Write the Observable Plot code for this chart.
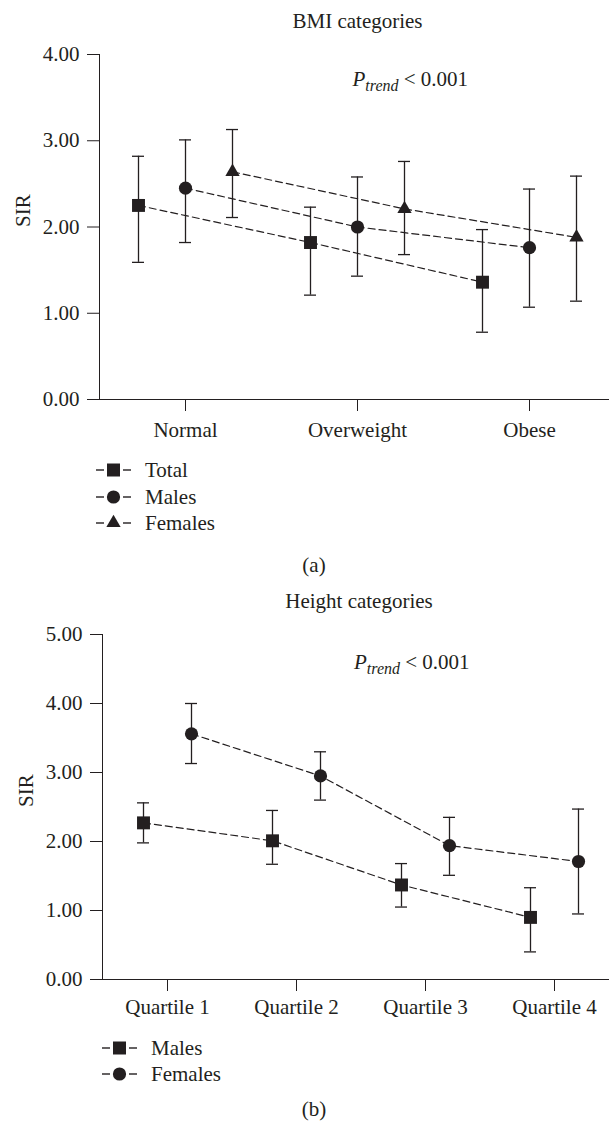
<!DOCTYPE html>
<html><head><meta charset="utf-8">
<script src="https://cdn.jsdelivr.net/npm/d3@7"></script>
<script src="https://cdn.jsdelivr.net/npm/@observablehq/plot@0.6"></script>
<style>
body{margin:0;background:#fff;}
#page{position:relative;width:609px;height:1121px;background:#fff;font-family:"Liberation Serif",serif;color:#231f20;overflow:hidden;}
.row{position:absolute;height:20px;font-size:21px;line-height:20px;white-space:nowrap;}
.cap{position:absolute;font-size:21px;line-height:20px;transform:translate(-50%,-50%);}
</style></head><body><div id="page"></div>
<script>
const ink = "#231f20";

// ---- Panel (a): BMI categories ----
const bmiTitle = "BMI categories";
const bmiCategories = ["Normal", "Overweight", "Obese"];
const bmiSeries = ["Total", "Males", "Females"];
const bmiSIR   = {Total: [2.25, 1.82, 1.36], Males: [2.45, 2.00, 1.76], Females: [2.64, 2.21, 1.88]};
const bmiLower = {Total: [1.59, 1.21, 0.78], Males: [1.82, 1.43, 1.07], Females: [2.11, 1.68, 1.14]};
const bmiUpper = {Total: [2.82, 2.23, 1.97], Males: [3.01, 2.58, 2.44], Females: [3.13, 2.76, 2.59]};
const bmiYTicks = [0, 1, 2, 3, 4];

// ---- Panel (b): Height categories ----
const htTitle = "Height categories";
const htCategories = ["Quartile 1", "Quartile 2", "Quartile 3", "Quartile 4"];
const htSeries = ["Males", "Females"];
const htSIR   = {Males: [2.27, 2.01, 1.37, 0.90], Females: [3.56, 2.95, 1.94, 1.71]};
const htLower = {Males: [1.98, 1.67, 1.05, 0.40], Females: [3.13, 2.60, 1.51, 0.95]};
const htUpper = {Males: [2.56, 2.45, 1.68, 1.33], Females: [4.00, 3.30, 2.35, 2.47]};
const htYTicks = [0, 1, 2, 3, 4, 5];

const pTrendText = "P_trend < 0.001";

function rowsFor(categories, series, sir, lo, hi) {
  return series.map(s => categories.map((c, i) => ({series: s, category: c, sir: sir[s][i], lo: lo[s][i], hi: hi[s][i]})));
}

function chart(o) {
  const marks = [];
  const groups = rowsFor(o.categories, o.series, o.sir, o.lo, o.hi);
  groups.forEach((rows, k) => {
    const dx = o.offsets[k];
    marks.push(Plot.line(rows, {x: "category", y: "sir", dx, stroke: ink, strokeWidth: 1.2, strokeDasharray: "7,4"}));
    marks.push(Plot.ruleX(rows, {x: "category", y1: "lo", y2: "hi", dx, stroke: ink, strokeWidth: 1.3}));
    marks.push(Plot.ruleY(rows, {x1: "category", x2: "category", y: "lo", dx, insetLeft: -6, insetRight: -6, stroke: ink, strokeWidth: 1.3}));
    marks.push(Plot.ruleY(rows, {x1: "category", x2: "category", y: "hi", dx, insetLeft: -6, insetRight: -6, stroke: ink, strokeWidth: 1.3}));
    marks.push(Plot.dot(rows, {x: "category", y: "sir", dx, symbol: o.symbols[k], r: o.radii[k], fill: ink, stroke: "none"}));
  });
  marks.push(Plot.text([o.title], {frameAnchor: "top", lineAnchor: "bottom", dy: -27, dx: 3, fill: ink}));
  marks.push(Plot.text(["SIR"], {frameAnchor: "left", rotate: -90, dx: -76, fill: ink}));
  marks.push(Plot.text([pTrendText], {frameAnchor: "top", textAnchor: "start", lineAnchor: "bottom", dy: o.pDy, dx: -2, fill: ink}));
  const svg = Plot.plot({
    width: 609, height: 450,
    marginTop: 54, marginBottom: 51, marginLeft: o.marginLeft, marginRight: 0,
    style: {fontFamily: "Liberation Serif, serif", fontSize: "21px", color: ink, background: "transparent", overflow: "visible"},
    x: {type: "point", domain: o.categories, padding: o.padding, align: o.align, label: null, tickSize: 12, tickPadding: o.xPad, line: true},
    y: {domain: [0, o.yTicks[o.yTicks.length - 1]], ticks: o.yTicks, tickFormat: d3.format(".2f"), label: null, tickSize: 12, tickPadding: 8, line: true},
    marks
  });
  svg.querySelectorAll("text").forEach(t => {
    if (t.textContent === pTrendText) {
      while (t.firstChild) t.removeChild(t.firstChild);
      const ns = "http://www.w3.org/2000/svg";
      const a = document.createElementNS(ns, "tspan"); a.setAttribute("font-style", "italic"); a.textContent = "P";
      const b = document.createElementNS(ns, "tspan"); b.setAttribute("font-style", "italic"); b.setAttribute("font-size", "16px"); b.setAttribute("dy", "5"); b.textContent = "trend";
      const c = document.createElementNS(ns, "tspan"); c.setAttribute("dy", "-5"); c.textContent = " < 0.001";
      t.appendChild(a); t.appendChild(b); t.appendChild(c);
    }
  });
  return svg;
}

const page = document.getElementById("page");

const svgA = chart({
  categories: bmiCategories, series: bmiSeries, sir: bmiSIR, lo: bmiLower, hi: bmiUpper,
  offsets: [-47, 0, 47], symbols: ["square", "circle", "triangle"], radii: [7.3, 6.6, 5.3],
  yTicks: bmiYTicks, title: bmiTitle, marginLeft: 99, padding: 0.474, align: 0.52, xPad: 11, pDy: 31
});
svgA.style.position = "absolute"; svgA.style.left = "0px"; svgA.style.top = "0px";
page.appendChild(svgA);

const svgB = chart({
  categories: htCategories, series: htSeries, sir: htSIR, lo: htLower, hi: htUpper,
  offsets: [-24, 24], symbols: ["square", "circle"], radii: [7.3, 6.6],
  yTicks: htYTicks, title: htTitle, marginLeft: 102, padding: 0.4575, align: 0.543, xPad: 8, pDy: 34
});
svgB.style.position = "absolute"; svgB.style.left = "0px"; svgB.style.top = "580px";
page.appendChild(svgB);

function legend(names, symbols, left, textLeft, centers) {
  names.forEach((n, k) => {
    const row = document.createElement("div");
    row.className = "row";
    row.style.left = left + "px";
    row.style.top = (centers[k] - 10) + "px";
    const s = d3.create("svg").attr("width", 36).attr("height", 20).style("position", "absolute").style("left", "0px").style("top", "0px");
    s.append("line").attr("x1", 0).attr("x2", 8).attr("y1", 10).attr("y2", 10).attr("stroke", ink).attr("stroke-width", 1.4);
    s.append("line").attr("x1", 27).attr("x2", 35).attr("y1", 10).attr("y2", 10).attr("stroke", ink).attr("stroke-width", 1.4);
    const type = symbols[k] === "square" ? d3.symbolSquare : symbols[k] === "circle" ? d3.symbolCircle : d3.symbolTriangle;
    const size = symbols[k] === "square" ? 169 : symbols[k] === "circle" ? Math.PI * 6.6 * 6.6 : 88;
    s.append("path").attr("transform", "translate(17.5,10)").attr("d", d3.symbol(type, size)()).attr("fill", ink);
    row.appendChild(s.node());
    const lab = document.createElement("span");
    lab.textContent = n;
    lab.style.position = "absolute"; lab.style.left = (textLeft - left) + "px"; lab.style.top = "0px";
    row.appendChild(lab);
    page.appendChild(row);
  });
}
legend(bmiSeries, ["square", "circle", "triangle"], 96, 145, [470, 497, 523]);
legend(htSeries, ["square", "circle"], 102, 151, [1048, 1074]);

function caption(t, x, y) {
  const d = document.createElement("div");
  d.className = "cap"; d.textContent = t; d.style.left = x + "px"; d.style.top = y + "px";
  page.appendChild(d);
}
caption("(a)", 314, 565);
caption("(b)", 314, 1109);
</script></body></html>
